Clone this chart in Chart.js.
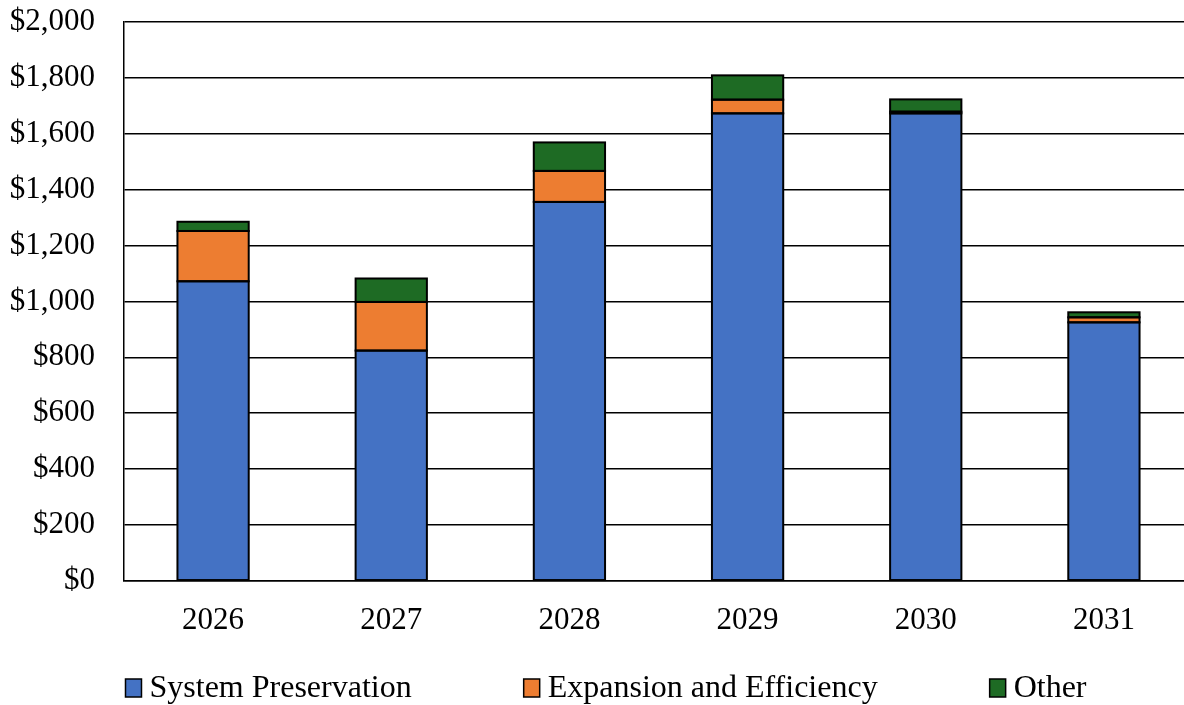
<!DOCTYPE html>
<html>
<head>
<meta charset="utf-8">
<script src="https://cdn.jsdelivr.net/npm/chart.js@4/dist/chart.umd.min.js"></script>
<style>
  html, body { margin: 0; padding: 0; background: #fff; overflow: hidden; }
  #wrap { width: 1193px; height: 705px; position: relative; }
</style>
</head>
<body>
<div id="wrap"><canvas id="chart"></canvas></div>
<script>
const years        = ['2026', '2027', '2028', '2029', '2030', '2031'];
const preservation = [1072, 824, 1356, 1673, 1673, 925];
const expansion    = [180, 174, 111, 49, 6, 18];
const other        = [33, 84, 102, 87, 44, 18];
const yTicks       = [0, 200, 400, 600, 800, 1000, 1200, 1400, 1600, 1800, 2000];

const FONT = "'Liberation Serif', 'Times New Roman', serif";

function series(label, data, color) {
  return {
    label, data,
    backgroundColor: color,
    borderColor: '#000',
    borderWidth: 0,
    barPercentage: 0.4,
    categoryPercentage: 1.0
  };
}

// ── Outline each bar segment centred on its edges (Excel style) ──
const barOutline = {
  id: 'barOutline',
  afterDatasetsDraw(chart) {
    const ctx = chart.ctx;
    ctx.save();
    ctx.lineWidth = 2;
    ctx.strokeStyle = '#000';
    chart.data.datasets.forEach((ds, i) => {
      chart.getDatasetMeta(i).data.forEach(bar => {
        const { x, y, base, width } = bar.getProps(['x', 'y', 'base', 'width'], true);
        ctx.strokeRect(x - width / 2, y, width, base - y);
      });
    });
    ctx.restore();
  }
};

// ── Legend drawn on the canvas (built-in one spaces items vertically too) ──
const bottomLegend = {
  id: 'bottomLegend',
  afterDraw(chart) {
    const ctx = chart.ctx;
    const gap = 112, boxW = 16, boxH = 18, textGap = 8, cy = 688, centerX = 606;
    ctx.save();
    ctx.font = `32px ${FONT}`;
    const items = chart.data.datasets.map(ds => ({ ds, w: boxW + textGap + ctx.measureText(ds.label).width }));
    const total = items.reduce((s, it) => s + it.w, 0) + gap * (items.length - 1);
    let x = centerX - total / 2;
    items.forEach(({ ds, w }) => {
      ctx.fillStyle = ds.backgroundColor;
      ctx.fillRect(x, cy - boxH / 2, boxW, boxH);
      ctx.lineWidth = 1.5;
      ctx.strokeStyle = '#000';
      ctx.strokeRect(x, cy - boxH / 2, boxW, boxH);
      ctx.fillStyle = '#000';
      ctx.textBaseline = 'middle';
      ctx.textAlign = 'left';
      ctx.fillText(ds.label, x + boxW + textGap, cy + 1);
      x += w + gap;
    });
    ctx.restore();
  }
};

new Chart(document.getElementById('chart').getContext('2d'), {
  type: 'bar',
  data: {
    labels: years,
    datasets: [
      series('System Preservation', preservation, '#4472C4'),
      series('Expansion and Efficiency', expansion, '#ED7D31'),
      series('Other', other, '#1E6B24')
    ]
  },
  plugins: [barOutline, bottomLegend],
  options: {
    responsive: true,
    maintainAspectRatio: false,
    animation: false,
    layout: { padding: { top: 0, left: 10, right: 0, bottom: 45 } },
    plugins: {
      tooltip: { enabled: false },
      legend: { display: false }
    },
    scales: {
      x: {
        stacked: true,
        grid: { display: false, drawTicks: false },
        border: { display: true, color: '#000', width: 1.5 },
        ticks: { font: { family: FONT, size: 31 }, color: '#000', padding: 21 }
      },
      y: {
        stacked: true,
        min: 0,
        max: 2000,
        afterBuildTicks: axis => { axis.ticks = yTicks.map(v => ({ value: v })); },
        afterFit: axis => {
          axis.width = 114;
          axis.paddingTop = 22;
          axis.paddingBottom = 18;
        },
        grid: { color: '#000', lineWidth: 1.5, drawTicks: false },
        border: { display: true, color: '#000', width: 1.5 },
        ticks: {
          font: { family: FONT, size: 31 },
          color: '#000',
          padding: 29,
          callback: v => '$' + Number(v).toLocaleString('en-US')
        }
      }
    }
  }
});
</script>
</body>
</html>
